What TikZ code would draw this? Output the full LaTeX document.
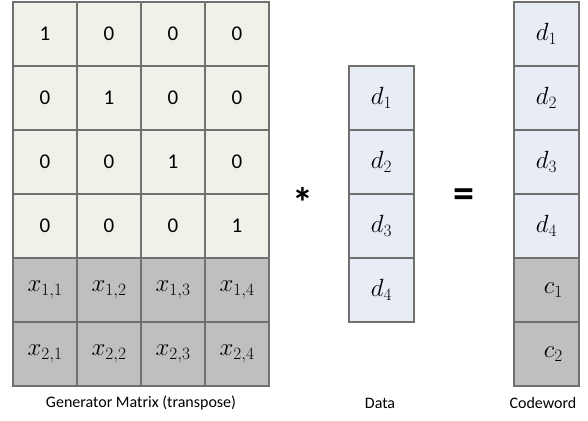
\documentclass[tikz,border=0pt]{standalone}
\usepackage{fontspec}
\setmainfont{Carlito}
\definecolor{bordergray}{HTML}{707070}
\definecolor{greenfill}{HTML}{F0F2EA}
\definecolor{bluefill}{HTML}{E8ECF4}
\definecolor{grayfill}{HTML}{BFBFBF}
\begin{document}
\begin{tikzpicture}[x=1pt,y=-1pt,
  cell/.style={draw=bordergray, line width=1.1pt, minimum width=64pt, minimum height=64pt, inner sep=0pt, anchor=center},
  gcell/.style={cell, fill=greenfill, font=\fontsize{21}{24}\selectfont},
  pcell/.style={cell, fill=grayfill, font=\fontsize{23}{28}\selectfont},
  dcell/.style={cell, fill=bluefill, minimum width=65pt, font=\fontsize{23}{28}\selectfont},
  ccell/.style={cell, fill=grayfill, minimum width=65pt, font=\fontsize{23}{28}\selectfont},
  lbl/.style={font=\fontsize{16}{18}\selectfont, inner sep=0pt},
  op/.style={font=\bfseries\fontsize{42}{42}\selectfont, inner sep=0pt}]
\useasboundingbox (0,0) rectangle (588,420);
% Generator matrix (identity part)
\foreach \r in {1,...,4}{
  \foreach \c in {1,...,4}{
    \pgfmathtruncatemacro{\v}{\r==\c ? 1 : 0}
    \node[gcell] (g-\r-\c) at ({13+64*\c-32},{2+64*\r-32}) {\v};
  }
}
% Parity part
\foreach \r in {1,2}{
  \foreach \c in {1,...,4}{
    \node[pcell] (p-\r-\c) at ({13+64*\c-32},{258+64*\r-32}) {$x_{\r,\c}$};
  }
}
% Data
\foreach \r in {1,...,4}{
  \node[dcell] (d-\r) at (381.5,{66+64*\r-32}) {$d_{\r}$};
}
% Codeword
\foreach \r in {1,...,4}{
  \node[dcell] (cw-\r) at (546.5,{2+64*\r-32}) {$d_{\r}$};
}
\foreach \r in {1,2}{
  \node[ccell] (cc-\r) at (546.5,{258+64*\r-32}) {$\;\;c_{\r}$};
}
% Operators
\node[op] (times) at (303,202) {*};
\node[op] (eq) at (464,198) {=};
% Labels
\node[lbl] (lg) at (141,403) {Generator Matrix (transpose)};
\node[lbl] (ld) at (380,403) {Data};
\node[lbl] (lc) at (543,403) {Codeword};
\end{tikzpicture}
\end{document}
